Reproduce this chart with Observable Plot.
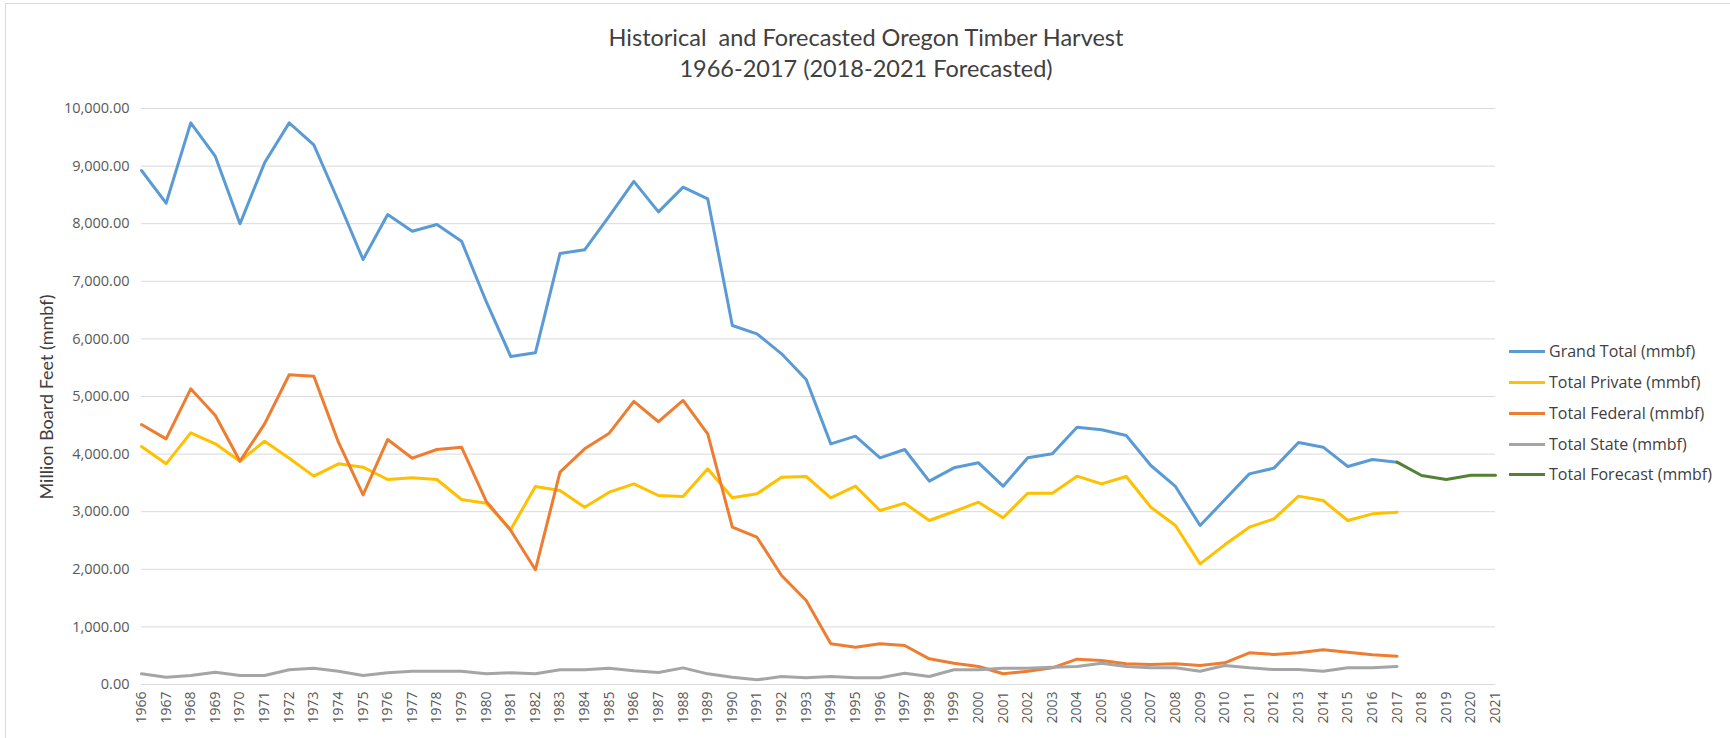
<!DOCTYPE html>
<html><head><meta charset="utf-8">
<script src="https://cdn.jsdelivr.net/npm/d3@7"></script>
<script src="https://cdn.jsdelivr.net/npm/@observablehq/plot@0.6"></script>
<style>
body{margin:0;background:#fff;}
#wrap{position:relative;width:1730px;height:738px;overflow:hidden;background:#fff;font-family:Lato,"Open Sans",sans-serif;color:#595959;}
#border{position:absolute;left:5px;top:3px;right:-5px;bottom:-5px;border:1px solid #D9D9D9;}
#title{position:absolute;left:0;width:1732px;top:22px;text-align:center;font-size:23.5px;line-height:31px;color:#404040;}
#ytitle{position:absolute;left:46px;top:397px;transform:translate(-50%,-50%) rotate(-90deg);white-space:nowrap;font-size:18px;color:#404040;}
#chart{position:absolute;left:0;top:0;}
#legend{position:absolute;left:1509px;top:0;}
.row{position:absolute;left:0;height:22px;white-space:nowrap;font-family:"Open Sans",sans-serif;font-size:16px;color:#404040;}
.sw{position:absolute;left:0;top:10px;width:36px;height:3px;}
.lt{position:absolute;left:40px;top:0;line-height:22px;}
</style></head><body>
<div id="wrap">
 <div id="border"></div>
 <div id="title">Historical&nbsp; and Forecasted Oregon Timber Harvest<br>1966-2017 (2018-2021 Forecasted)</div>
 <div id="ytitle">Million Board Feet (mmbf)</div>
 <div id="chart"></div>
 <div id="legend"></div>
</div>
<script>
// Categories (years)
const years = ["1966","1967","1968","1969","1970","1971","1972","1973","1974","1975","1976","1977","1978","1979","1980","1981","1982","1983","1984","1985","1986","1987","1988","1989","1990","1991","1992","1993","1994","1995","1996","1997","1998","1999","2000","2001","2002","2003","2004","2005","2006","2007","2008","2009","2010","2011","2012","2013","2014","2015","2016","2017","2018","2019","2020","2021"];
const histYears = years.slice(0, 52);       // 1966-2017
const forecastYears = ["2017","2018","2019","2020","2021"];

// Series values (mmbf)
const grandTotal = [8924,8356,9751,9167,7998,9057,9751,9369,8390,7378,8160,7870,7986,7697,6650,5694,5758,7483,7547,8130,8735,8206,8634,8432,6233,6088,5741,5295,4178,4311,3935,4080,3530,3762,3849,3443,3935,4005,4468,4422,4323,3802,3438,2760,3206,3657,3756,4201,4120,3785,3906,3860];
const totalPrivate = [4132,3831,4369,4178,3877,4224,3929,3617,3831,3773,3559,3588,3559,3212,3148,2691,3438,3368,3078,3339,3484,3281,3264,3745,3241,3310,3600,3611,3241,3443,3021,3148,2847,3003,3165,2894,3321,3321,3617,3484,3611,3078,2760,2095,2425,2731,2876,3270,3194,2847,2963,2992];
const totalFederal = [4514,4265,5133,4670,3877,4525,5377,5353,4207,3293,4253,3929,4080,4120,3183,2674,1991,3686,4092,4363,4916,4562,4931,4352,2731,2557,1892,1458,706,648,706,677,446,370,313,186,231,289,440,417,359,347,359,330,377,550,521,550,602,561,515,492];
const totalState = [185,127,156,214,156,156,255,283,231,156,203,231,231,231,185,203,185,255,255,283,240,209,289,185,127,81,139,116,139,116,116,197,139,255,255,283,283,301,313,370,313,289,289,231,330,289,260,260,231,289,289,313];
const totalForecast = [3860,3628,3559,3634,3634];

// Tick labels
const yTicks = [0,1000,2000,3000,4000,5000,6000,7000,8000,9000,10000];

// Series names and colours
const seriesNames = ["Grand Total (mmbf)","Total Private (mmbf)","Total Federal (mmbf)","Total State (mmbf)","Total Forecast (mmbf)"];
const seriesColors = ["#5B9BD5","#FFC000","#ED7D31","#A5A5A5","#548235"];

const toRows = (xs, vs) => vs.map((v, i) => ({year: xs[i], value: v}));
const seriesData = [
  toRows(histYears, grandTotal),
  toRows(histYears, totalPrivate),
  toRows(histYears, totalFederal),
  toRows(histYears, totalState),
  toRows(forecastYears, totalForecast)
];

const chart = Plot.plot({
  width: 1730, height: 738,
  marginLeft: 141, marginRight: 235, marginTop: 108, marginBottom: 54,
  x: {type: "point", domain: years, padding: 0},
  y: {domain: [0, 10000]},
  style: {fontFamily: "'Open Sans', sans-serif", fontSize: "14px", color: "#595959", background: "transparent", overflow: "visible"},
  marks: [
    Plot.gridY(yTicks, {stroke: "#D9D9D9", strokeOpacity: 1, strokeWidth: 1}),
    Plot.axisY(yTicks, {tickSize: 0, tickPadding: 12, tickFormat: d3.format(",.2f"), label: null, fontSize: 14.5}),
    Plot.axisX(years, {tickSize: 0, tickPadding: 7, tickRotate: -90, label: null, fontSize: 14}),
    ...seriesData.map((d, i) => Plot.line(d, {x: "year", y: "value", stroke: seriesColors[i], strokeWidth: 3, strokeLinejoin: "round", strokeLinecap: "round"}))
  ]
});
document.getElementById("chart").appendChild(chart);

const legend = document.getElementById("legend");
const rowTops = [351, 382, 413, 444, 474];
seriesNames.forEach((name, i) => {
  const row = document.createElement("div");
  row.className = "row";
  row.style.top = (rowTops[i] - 11) + "px";
  const sw = document.createElement("span");
  sw.className = "sw";
  sw.style.background = seriesColors[i];
  const t = document.createElement("span");
  t.className = "lt";
  t.textContent = name;
  row.appendChild(sw); row.appendChild(t);
  legend.appendChild(row);
});
</script>
</body></html>
